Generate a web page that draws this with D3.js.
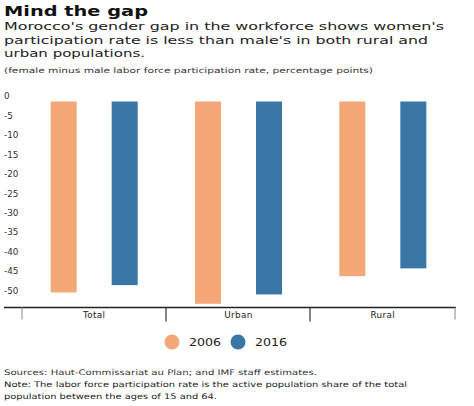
<!DOCTYPE html>
<html><head><meta charset="utf-8">
<script src="https://cdn.jsdelivr.net/npm/d3@7"></script>
<style>
body{margin:0;background:#fff;}
text{font-family:"DejaVu Sans","Noto Sans",sans-serif;}
</style></head>
<body><svg id="c" width="474" height="406"></svg>
<script>
const categories = ["Total","Urban","Rural"];
const seriesNames = ["2006","2016"];
const values2006 = [-49.1,-52.0,-44.9];
const values2016 = [-47.2,-49.6,-42.9];
const yTicks = [0,-5,-10,-15,-20,-25,-30,-35,-40,-45,-50];
const colors = ["#F4A877","#3A77A6"];

const svg = d3.select("#c");
const x = d3.scaleBand().domain(categories).range([22,455]);
const y = d3.scaleLinear().domain([0,-50]).range([101.5,296]);

function txt(t,xp,yp,size,len,opts={}){
  const e = svg.append("text").attr("x",xp).attr("y",yp).attr("font-size",size)
    .attr("fill",opts.fill||"#222").attr("font-weight",opts.weight||400).text(t);
  if(len){e.attr("textLength",len).attr("lengthAdjust","spacingAndGlyphs");}
  return e;
}
// titles
txt("Mind the gap",4,16,14.8,144,{weight:700,fill:"#111"});
txt("Morocco's gender gap in the workforce shows women's",4,30,10.8,440);
txt("participation rate is less than male's in both rural and",4,43.5,10.8,424);
txt("urban populations.",4,56.5,10.8,141);
txt("(female minus male labor force participation rate, percentage points)",4,72.5,7.5,369,{fill:"#333"});

// y labels
svg.append("g").selectAll("text").data(yTicks).join("text")
  .attr("x",4).attr("y",d=>y(d)-5.3).attr("dy","0.35em")
  .attr("font-size",8.8).attr("fill","#333").text(d=>d);

// bars
const data = categories.map((c,i)=>({c, v:[values2006[i],values2016[i]]}));
const g = svg.append("g");
data.forEach(d=>{
  d.v.forEach((v,j)=>{
    const cx = x(d.c)+x.bandwidth()/2 + (j===0?-30.5:30.5);
    g.append("rect").attr("x",cx-13).attr("width",26)
      .attr("y",y(0)).attr("height",y(v)-y(0)).attr("fill",colors[j]);
  });
});

// x axis
const xa = svg.append("g").attr("transform","translate(0,307.5)");
xa.append("line").attr("x1",4).attr("x2",456).attr("stroke","#222").attr("stroke-width",1.5);
const edges = [22,166,310,455];
edges.forEach((e,i)=>xa.append("line").attr("x1",e).attr("x2",e).attr("y1",0)
  .attr("y2",(i===0||i===3)?12:14).attr("stroke",(i===0||i===3)?"#999":"#333").attr("stroke-width",1.2));
xa.selectAll("text.cat").data(categories).join("text").attr("class","cat")
  .attr("x",d=>x(d)+x.bandwidth()/2).attr("y",10).attr("text-anchor","middle").attr("letter-spacing",0.4)
  .attr("font-size",8.8).attr("fill","#222").text(d=>d);

// legend
const lg = svg.append("g");
const lx = [172,238];
seriesNames.forEach((s,i)=>{
  lg.append("circle").attr("cx",lx[i]).attr("cy",342).attr("r",7.5).attr("fill",colors[i]);
  lg.append("text").attr("x",lx[i]+17).attr("y",346).attr("font-size",10)
    .attr("textLength",32).attr("lengthAdjust","spacingAndGlyphs")
    .attr("fill","#222").text(s);
});

// notes
txt("Sources: Haut-Commissariat au Plan; and IMF staff estimates.",4,375,7.6,313,{fill:"#333"});
txt("Note: The labor force participation rate is the active population share of the total",4,387,7.6,403);
txt("population between the ages of 15 and 64.",4,398.5,7.6,213);
</script></body></html>
